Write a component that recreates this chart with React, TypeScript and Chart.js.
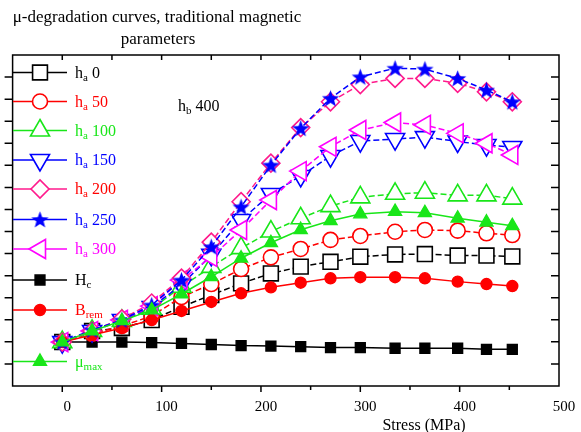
import React, { useEffect, useRef } from 'react';
import { Chart, registerables } from 'chart.js';
Chart.register(...registerables);

// ---- data ----
const stress = [0, 30, 60, 90, 120, 150, 180, 210, 240, 270, 300, 335, 365, 398, 427, 453];
const ha0 = [1.99, 2.49, 2.63, 2.99, 3.59, 4.12, 4.65, 5.10, 5.41, 5.63, 5.86, 5.96, 5.98, 5.91, 5.91, 5.87];
const ha50 = [1.99, 2.36, 2.72, 3.17, 4.03, 4.62, 5.30, 5.83, 6.21, 6.62, 6.80, 6.99, 7.07, 7.04, 6.92, 6.84];
const ha100 = [1.99, 2.50, 2.95, 3.50, 4.50, 5.40, 6.25, 7.00, 7.60, 8.15, 8.55, 8.71, 8.76, 8.64, 8.64, 8.49];
const ha150 = [1.99, 2.49, 2.99, 3.58, 4.58, 5.94, 7.52, 8.70, 9.52, 10.42, 11.10, 11.19, 11.28, 11.08, 10.92, 10.83];
const ha200 = [1.99, 2.49, 3.04, 3.76, 4.89, 6.52, 8.35, 10.10, 11.71, 12.88, 13.66, 13.94, 13.94, 13.72, 13.33, 12.88];
const ha250 = [1.99, 2.54, 2.99, 3.67, 4.80, 6.31, 8.12, 10.01, 11.68, 13.04, 14.01, 14.40, 14.36, 13.94, 13.41, 12.88];
const ha300 = [1.99, 2.49, 2.99, 3.62, 4.80, 5.85, 7.07, 8.43, 9.74, 10.84, 11.60, 11.94, 11.83, 11.45, 11.00, 10.47];
const hc = [1.99, 1.99, 1.99, 1.97, 1.93, 1.88, 1.83, 1.81, 1.78, 1.74, 1.74, 1.71, 1.71, 1.71, 1.66, 1.66];
const brem = [1.99, 2.31, 2.63, 2.99, 3.40, 3.81, 4.20, 4.47, 4.68, 4.88, 4.93, 4.93, 4.88, 4.73, 4.62, 4.53];
const mumax = [1.99, 2.49, 2.95, 3.44, 4.17, 4.95, 5.79, 6.49, 7.08, 7.49, 7.79, 7.90, 7.85, 7.60, 7.42, 7.26];

const xTicks = [0, 100, 200, 300, 400, 500];
const xMinorStep = 50;
const yTickCount = 15;
const titleLines = ['μ-degradation curves, traditional magnetic', 'parameters'];
const xTitle = 'Stress (MPa)';
const annotation = { main: 'h', sub: 'b', rest: ' 400' };

const legendLabels = [
  { main: 'h', sub: 'a', rest: ' 0' },
  { main: 'h', sub: 'a', rest: ' 50' },
  { main: 'h', sub: 'a', rest: ' 100' },
  { main: 'h', sub: 'a', rest: ' 150' },
  { main: 'h', sub: 'a', rest: ' 200' },
  { main: 'h', sub: 'a', rest: ' 250' },
  { main: 'h', sub: 'a', rest: ' 300' },
  { main: 'H', sub: 'c', rest: '' },
  { main: 'B', sub: 'rem', rest: '' },
  { main: 'μ', sub: 'max', rest: '' },
];

// ---- styles ----
const BLACK = '#000000';
const RED = '#ff0000';
const GREEN = '#19e619';
const BLUE = '#0000ff';
const PINK = '#ff1a8c';
const MAGENTA = '#ff00ff';
const SERIF = '"Liberation Serif", "Times New Roman", serif';

function makeStar(color: string, size: number) {
  const c = document.createElement('canvas');
  c.width = size;
  c.height = size;
  const g = c.getContext('2d')!;
  const cx = size / 2, cy = size / 2 + 0.8;
  const R = size / 2 - 0.5, r = R * 0.42;
  g.beginPath();
  for (let i = 0; i < 10; i++) {
    const ang = -Math.PI / 2 + (i * Math.PI) / 5;
    const rad = i % 2 === 0 ? R : r;
    const px = cx + Math.cos(ang) * rad;
    const py = cy + Math.sin(ang) * rad;
    if (i === 0) g.moveTo(px, py);
    else g.lineTo(px, py);
  }
  g.closePath();
  g.fillStyle = color;
  g.fill();
  return c;
}

type SeriesStyle = {
  color: string;
  textColor: string;
  style: string;
  rotation: number;
  radius: number;
  fill: string;
  dash: number[];
  lw: number;
};

const seriesStyles: SeriesStyle[] = [
  { color: BLACK, textColor: BLACK, style: 'rect', rotation: 0, radius: 10.5, fill: '#ffffff', dash: [6, 3], lw: 1.6 },
  { color: RED, textColor: RED, style: 'circle', rotation: 0, radius: 7.5, fill: '#ffffff', dash: [6, 3], lw: 1.6 },
  { color: GREEN, textColor: GREEN, style: 'triangle', rotation: 0, radius: 11, fill: '#ffffff', dash: [6, 3], lw: 1.6 },
  { color: BLUE, textColor: BLUE, style: 'triangle', rotation: 180, radius: 11, fill: '#ffffff', dash: [6, 3], lw: 1.6 },
  { color: PINK, textColor: RED, style: 'rectRot', rotation: 0, radius: 9, fill: '#ffffff', dash: [6, 3], lw: 1.6 },
  { color: BLUE, textColor: BLUE, style: 'star', rotation: 0, radius: 9, fill: BLUE, dash: [6, 3], lw: 1.6 },
  { color: MAGENTA, textColor: MAGENTA, style: 'triangle', rotation: -90, radius: 11, fill: '#ffffff', dash: [6, 3], lw: 1.6 },
  { color: BLACK, textColor: BLACK, style: 'rect', rotation: 0, radius: 7, fill: BLACK, dash: [], lw: 1.4 },
  { color: RED, textColor: RED, style: 'circle', rotation: 0, radius: 5.5, fill: RED, dash: [], lw: 1.4 },
  { color: GREEN, textColor: GREEN, style: 'triangle', rotation: 0, radius: 7.5, fill: GREEN, dash: [], lw: 1.4 },
];

const legendY = [72.5, 101.5, 130.5, 160, 189, 219.5, 249, 280, 310, 361.5];

function drawMarker(ctx: CanvasRenderingContext2D, s: SeriesStyle, x: number, y: number, star: HTMLCanvasElement) {
  if (s.style === 'star') {
    ctx.drawImage(star, x - star.width / 2, y - star.height / 2);
    return;
  }
  ctx.save();
  ctx.beginPath();
  const r = s.radius;
  if (s.style === 'circle') {
    ctx.arc(x, y, r, 0, Math.PI * 2);
  } else if (s.style === 'rect') {
    const h = r * Math.SQRT1_2;
    ctx.rect(x - h, y - h, 2 * h, 2 * h);
  } else if (s.style === 'rectRot') {
    ctx.moveTo(x - r, y);
    ctx.lineTo(x, y - r);
    ctx.lineTo(x + r, y);
    ctx.lineTo(x, y + r);
    ctx.closePath();
  } else if (s.style === 'triangle') {
    let rad = (s.rotation * Math.PI) / 180;
    ctx.moveTo(x + Math.sin(rad) * r, y - Math.cos(rad) * r);
    rad += (2 * Math.PI) / 3;
    ctx.lineTo(x + Math.sin(rad) * r, y - Math.cos(rad) * r);
    rad += (2 * Math.PI) / 3;
    ctx.lineTo(x + Math.sin(rad) * r, y - Math.cos(rad) * r);
    ctx.closePath();
  }
  ctx.fillStyle = s.fill;
  ctx.fill();
  ctx.lineWidth = s.lw;
  ctx.strokeStyle = s.color;
  ctx.stroke();
  ctx.restore();
}

function drawSubText(
  ctx: CanvasRenderingContext2D,
  x: number,
  y: number,
  t: { main: string; sub: string; rest: string },
  color: string,
  size: number
) {
  ctx.save();
  ctx.fillStyle = color;
  ctx.textBaseline = 'alphabetic';
  ctx.textAlign = 'left';
  ctx.font = `${size}px ${SERIF}`;
  ctx.fillText(t.main, x, y);
  let cx = x + ctx.measureText(t.main).width;
  ctx.font = `${Math.round(size * 0.68)}px ${SERIF}`;
  ctx.fillText(t.sub, cx, y + 3);
  cx += ctx.measureText(t.sub).width;
  ctx.font = `${size}px ${SERIF}`;
  ctx.fillText(t.rest, cx, y);
  ctx.restore();
}

export default function App() {
  const ref = useRef<HTMLCanvasElement>(null);

  useEffect(() => {
    const canvas = ref.current!;
    const star = makeStar(BLUE, 19);
    const seriesData = [ha0, ha50, ha100, ha150, ha200, ha250, ha300, hc, brem, mumax];
    const orders = [8, 7, 6, 5, 3, 1, 4, 9, 2, 0];

    const datasets = seriesData.map((arr, i) => {
      const s = seriesStyles[i];
      return {
        label: legendLabels[i].main + legendLabels[i].sub + legendLabels[i].rest,
        data: arr.map((v, j) => ({ x: stress[j], y: v })),
        borderColor: s.color,
        borderWidth: 1.5,
        borderDash: s.dash,
        backgroundColor: s.fill,
        pointStyle: s.style === 'star' ? (star as any) : s.style,
        pointRotation: s.rotation,
        pointRadius: s.radius,
        pointBackgroundColor: s.fill,
        pointBorderColor: s.color,
        pointBorderWidth: s.lw,
        tension: 0,
        fill: false,
        order: orders[i],
      };
    });

    const deco = {
      id: 'deco',
      afterDraw(chart: any) {
        const ctx: CanvasRenderingContext2D = chart.ctx;
        const { left, right, top, bottom } = chart.chartArea;
        const xs = chart.scales.x;
        const ys = chart.scales.y;
        ctx.save();
        // frame
        ctx.strokeStyle = '#000';
        ctx.lineWidth = 1.5;
        ctx.strokeRect(left, top, right - left, bottom - top);
        // x ticks
        ctx.lineWidth = 1.5;
        for (let v = xs.min + xMinorStep; v <= xs.max - 1e-6; v += xMinorStep) {
          const px = xs.getPixelForValue(v);
          const major = xTicks.includes(v);
          ctx.beginPath();
          ctx.moveTo(px, bottom);
          ctx.lineTo(px, bottom + (major ? 6 : 4));
          ctx.moveTo(px, top);
          ctx.lineTo(px, top + 5);
          ctx.stroke();
        }
        // y ticks
        for (let k = 1; k < yTickCount; k++) {
          const py = ys.getPixelForValue(k);
          ctx.beginPath();
          ctx.moveTo(left - 8, py);
          ctx.lineTo(left, py);
          ctx.moveTo(right - 8, py);
          ctx.lineTo(right, py);
          ctx.stroke();
        }
        // x tick labels
        ctx.fillStyle = '#000';
        ctx.font = `15px ${SERIF}`;
        ctx.textAlign = 'center';
        ctx.textBaseline = 'alphabetic';
        xTicks.forEach((v) => {
          ctx.fillText(String(v), xs.getPixelForValue(v) + 5, 411);
        });
        // axis title
        ctx.font = `16px ${SERIF}`;
        ctx.fillText(xTitle, 424, 430);
        // chart title
        ctx.font = `17px ${SERIF}`;
        ctx.fillText(titleLines[0], 157, 22);
        ctx.fillText(titleLines[1], 158, 44);
        // annotation
        drawSubText(ctx, 178, 111, annotation, '#000', 16);
        // legend
        legendLabels.forEach((lab, i) => {
          const s = seriesStyles[i];
          const y = legendY[i];
          ctx.save();
          ctx.strokeStyle = s.color;
          ctx.lineWidth = 1.6;
          ctx.beginPath();
          ctx.moveTo(13, y);
          ctx.lineTo(67, y);
          ctx.stroke();
          ctx.restore();
          drawMarker(ctx, s, 40, y, star);
          drawSubText(ctx, 75, y + 5, lab, s.textColor, 16);
        });
        ctx.restore();
      },
    };

    const chart = new Chart(canvas, {
      type: 'line',
      data: { datasets: datasets as any },
      options: {
        responsive: false,
        animation: false,
        layout: { padding: { left: 8, right: 22, top: 55, bottom: 46 } },
        scales: {
          x: { type: 'linear', min: -50, max: 500, display: false },
          y: { type: 'linear', min: 0, max: 15, display: false },
        },
        plugins: {
          legend: { display: false },
          title: { display: false },
          tooltip: { enabled: false },
        },
      },
      plugins: [deco as any],
    });
    return () => chart.destroy();
  }, []);

  return (
    <div style={{ position: 'fixed', left: 0, top: 0, width: 581, height: 432, background: '#fff' }}>
      <canvas ref={ref} width={581} height={432} style={{ display: 'block' }} />
    </div>
  );
}
